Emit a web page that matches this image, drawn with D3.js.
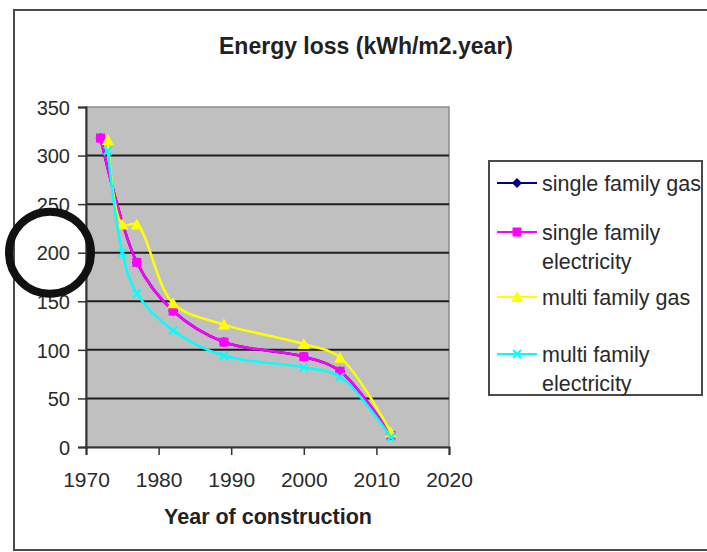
<!DOCTYPE html>
<html>
<head>
<meta charset="utf-8">
<script src="https://cdn.jsdelivr.net/npm/d3@7"></script>
<style>
  html, body { margin: 0; padding: 0; background: #fff; }
  svg { display: block; font-family: "Liberation Sans", Arial, sans-serif; }
</style>
</head>
<body>
<svg id="chart" width="707" height="552"></svg>
<script>
// Year of construction for each measured point
const years = [1972, 1973, 1975, 1977, 1982, 1989, 2000, 2005, 2012];

// Energy loss (kWh/m2.year) per series; null = no measurement for that year
const singleFamilyGas         = [318, null, null, 190, 140, 108, 93, 78, 12];
const singleFamilyElectricity = [318, null, null, 190, 140, 108, 93, 78, 12];
const multiFamilyGas          = [null, 316, 229, 229, 148, 126, 106, 92, 15];
const multiFamilyElectricity  = [null, 305, 200, 158, 120, 94, 82, 72, 10];

const seriesNames = ["single family gas", "single family electricity", "multi family gas", "multi family electricity"];
const legendLines = [["single family gas"], ["single family", "electricity"], ["multi family gas"], ["multi family", "electricity"]];

const yTicks = [0, 50, 100, 150, 200, 250, 300, 350];
const xTicks = [1970, 1980, 1990, 2000, 2010, 2020];

const series = [
  { name: seriesNames[0], values: singleFamilyGas,         color: "#000080", marker: "diamond" },
  { name: seriesNames[1], values: singleFamilyElectricity, color: "#ff00ff", marker: "square" },
  { name: seriesNames[2], values: multiFamilyGas,          color: "#ffff00", marker: "triangle" },
  { name: seriesNames[3], values: multiFamilyElectricity,  color: "#00ffff", marker: "cross" }
];

const svg = d3.select("#chart");

// outer chart frame (runs past the right edge)
svg.append("rect")
  .attr("x", 14).attr("y", 10).attr("width", 720).attr("height", 540)
  .attr("fill", "#fff").attr("stroke", "#4a4a4a").attr("stroke-width", 2);

const plot = { left: 86, right: 449, top: 107, bottom: 447 };

const x = d3.scaleLinear().domain([1970, 2020]).range([plot.left, plot.right]);
const y = d3.scaleLinear().domain([0, 350]).range([plot.bottom, plot.top]);

// plot background
svg.append("rect")
  .attr("x", plot.left).attr("y", plot.top)
  .attr("width", plot.right - plot.left).attr("height", plot.bottom - plot.top)
  .attr("fill", "#c0c0c0").attr("stroke", "#8a8a8a").attr("stroke-width", 1.5);

// horizontal gridlines
svg.append("g").selectAll("line")
  .data(yTicks.filter(t => t > 0 && t < 350))
  .join("line")
  .attr("x1", plot.left).attr("x2", plot.right)
  .attr("y1", d => y(d)).attr("y2", d => y(d))
  .attr("stroke", "#1e1e1e").attr("stroke-width", 2);

// axes
const yAxis = d3.axisLeft(y).tickValues(yTicks).tickSize(8).tickPadding(8).tickFormat(d3.format("d"));
const gy = svg.append("g").attr("transform", `translate(${plot.left},0)`).call(yAxis);
const xAxis = d3.axisBottom(x).tickValues(xTicks).tickSize(8).tickPadding(17).tickFormat(d3.format("d"));
const gx = svg.append("g").attr("transform", `translate(0,${plot.bottom})`).call(xAxis);

[gy, gx].forEach(g => {
  g.select(".domain").attr("stroke", "#333").attr("stroke-width", 2);
  g.selectAll(".tick line").attr("stroke", "#333").attr("stroke-width", 1.5);
  g.selectAll(".tick text").attr("fill", "#2a2a2a").style("font-size", "20px")
    .style("font-family", "'Liberation Sans', Arial, sans-serif");
});
gy.selectAll(".tick text").attr("dy", "0.36em");
gx.selectAll(".tick text").attr("dy", "0.71em").style("font-size", "21px");

// series lines (smoothed) and markers
const line = d3.line()
  .x(d => x(d.year)).y(d => y(d.value))
  .curve(d3.curveCatmullRom.alpha(0.5));

function points(s) {
  return years.map((yr, i) => ({ year: yr, value: s.values[i] })).filter(d => d.value != null);
}

function drawMarker(g, type, color, cx, cy) {
  if (type === "diamond") {
    g.append("path").attr("d", `M${cx},${cy - 5}L${cx + 5},${cy}L${cx},${cy + 5}L${cx - 5},${cy}Z`).attr("fill", color);
  } else if (type === "square") {
    g.append("rect").attr("x", cx - 4.5).attr("y", cy - 4.5).attr("width", 9).attr("height", 9).attr("fill", color);
  } else if (type === "triangle") {
    g.append("path").attr("d", `M${cx},${cy - 6}L${cx + 6},${cy + 5}L${cx - 6},${cy + 5}Z`).attr("fill", color);
  } else {
    g.append("path").attr("d", `M${cx - 4},${cy - 4}L${cx + 4},${cy + 4}M${cx + 4},${cy - 4}L${cx - 4},${cy + 4}`)
      .attr("stroke", color).attr("stroke-width", 2);
  }
}

const gSeries = svg.append("g");
series.forEach(s => {
  const pts = points(s);
  gSeries.append("path").datum(pts)
    .attr("d", line).attr("fill", "none")
    .attr("stroke", s.color).attr("stroke-width", 2.5);
  const gm = gSeries.append("g");
  pts.forEach(p => drawMarker(gm, s.marker, s.color, x(p.year), y(p.value)));
});

// title and axis title
svg.append("text")
  .attr("x", 366).attr("y", 54).attr("text-anchor", "middle")
  .style("font-size", "23px").style("font-weight", "bold").attr("fill", "#222")
  .text("Energy loss (kWh/m2.year)");

svg.append("text")
  .attr("x", 268).attr("y", 524).attr("text-anchor", "middle")
  .style("font-size", "21.5px").style("font-weight", "bold").attr("fill", "#222")
  .text("Year of construction");

// legend
const legend = svg.append("g");
legend.append("rect")
  .attr("x", 489).attr("y", 161).attr("width", 213).attr("height", 234)
  .attr("fill", "#fff").attr("stroke", "#4a4a4a").attr("stroke-width", 2);

const legendY = [183, 232, 297, 354];
series.forEach((s, i) => {
  const ly = legendY[i];
  legend.append("line")
    .attr("x1", 497).attr("x2", 537).attr("y1", ly).attr("y2", ly)
    .attr("stroke", s.color).attr("stroke-width", 2);
  drawMarker(legend, s.marker, s.color, 517, ly);
  const t = legend.append("text")
    .attr("x", 542).attr("y", ly)
    .style("font-size", "21.5px").attr("fill", "#2a2a2a");
  legendLines[i].forEach((ln, j) => {
    t.append("tspan").attr("x", 542).attr("dy", j === 0 ? "0.35em" : "1.35em").text(ln);
  });
});

// highlight ring around the 200 label
svg.append("circle")
  .attr("cx", 50).attr("cy", y(200))
  .attr("r", 41).attr("fill", "none")
  .attr("stroke", "#111").attr("stroke-width", 8);
</script>
</body>
</html>
